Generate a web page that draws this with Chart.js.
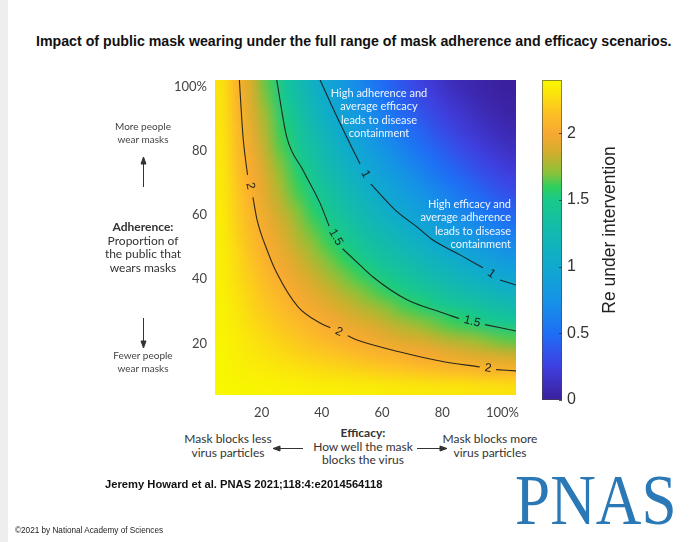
<!DOCTYPE html>
<html>
<head>
<meta charset="utf-8">
<script src="https://cdn.jsdelivr.net/npm/chart.js@4.4.0/dist/chart.umd.min.js"></script>
<style>
  html, body { margin: 0; padding: 0; background: #fff; }
  #page { position: relative; width: 689px; height: 542px; overflow: hidden; background: #fff; font-family: Lato, sans-serif; color: #333; }
  .abs { position: absolute; white-space: nowrap; }
  .strip { left: 0; top: 0; width: 8px; height: 542px; background: #eeeeee; }
  .title { left: 36px; top: 33px; font: bold 14.2px "Liberation Sans", Arial, sans-serif; color: #111; }
  .cite { left: 105px; top: 478px; font: bold 11.2px "Liberation Sans", Arial, sans-serif; color: #111; }
  .copy { left: 15px; top: 526px; font: 8.2px "Liberation Sans", Arial, sans-serif; color: #222; }
  .logo { left: 515px; top: 465px; font: 71px/71px "Liberation Serif", "Times New Roman", serif; color: #2a78b5; transform: scaleX(0.89); transform-origin: left top; }
  .small { font-size: 10px; line-height: 13px; text-align: center; color: #444; }
  .label { font-size: 12px; line-height: 13.5px; text-align: center; color: #333; }
  .note { font-size: 11px; line-height: 13.3px; color: #eef6ff; }
  .cbtitle { left: 609px; top: 230px; font: 17.5px "Liberation Sans", Arial, sans-serif; color: #222; transform: translate(-50%, -50%) rotate(-90deg); }
  #main { position: absolute; left: 150px; top: 70px; }
  #cbar { position: absolute; left: 532px; top: 70px; }
  svg { position: absolute; left: 0; top: 0; }
</style>
</head>
<body>
<div id="page">
  <div class="abs strip"></div>
  <div class="abs title">Impact of public mask wearing under the full range of mask adherence and efficacy scenarios.</div>

  <canvas id="main" width="376" height="355"></canvas>
  <canvas id="cbar" width="100" height="340"></canvas>

  <div class="abs note" style="left:309px; top:86px; width:140px; text-align:center;">High adherence and<br>average efficacy<br>leads to disease<br>containment</div>
  <div class="abs note" style="left:371px; top:197px; width:140px; text-align:right;">High efficacy and<br>average adherence<br>leads to disease<br>containment</div>

  <div class="abs small" style="left:93px; top:120px; width:100px;">More people<br>wear masks</div>
  <div class="abs label" style="left:83px; top:220px; width:120px;"><b>Adherence:</b><br>Proportion of<br>the public that<br>wears masks</div>
  <div class="abs small" style="left:93px; top:349px; width:100px;">Fewer people<br>wear masks</div>

  <div class="abs label" style="left:168px; top:432px; width:120px;">Mask blocks less<br>virus particles</div>
  <div class="abs label" style="left:293px; top:426px; width:140px;"><b>Efficacy:</b><br>How well the mask<br>blocks the virus</div>
  <div class="abs label" style="left:430px; top:432px; width:120px;">Mask blocks more<br>virus particles</div>

  <svg width="689" height="542">
    <g stroke="#333" stroke-width="1" fill="#333">
      <line x1="143.5" y1="187" x2="143.5" y2="162"/>
      <polygon points="143.5,157 141,164 146,164"/>
      <line x1="143.5" y1="318" x2="143.5" y2="343"/>
      <polygon points="143.5,348 141,341 146,341"/>
      <line x1="303" y1="448.5" x2="278" y2="448.5"/>
      <polygon points="273,448.5 280,446 280,451"/>
      <line x1="417" y1="448.5" x2="442" y2="448.5"/>
      <polygon points="447,448.5 440,446 440,451"/>
    </g>
  </svg>

  <div class="abs cbtitle">Re under intervention</div>
  <div class="abs cite">Jeremy Howard et al. PNAS 2021;118:4:e2014564118</div>
  <div class="abs logo">PNAS</div>
  <div class="abs copy">©2021 by National Academy of Sciences</div>
</div>

<script>
// mask efficacy (x) and adherence (y) cell centres, axis units as labelled in the figure
const efficacy = [7, 12, 17, 22, 27, 32, 37, 42, 47, 52, 57, 62, 67, 72, 77, 82, 87, 92, 97, 102];
const adherence = [6.5, 11.5, 16.5, 21.5, 26.5, 31.5, 36.5, 41.5, 46.5, 51.5, 56.5, 61.5, 66.5, 71.5, 76.5, 81.5, 86.5, 91.5, 96.5, 101.5];

// Re under intervention, one row per adherence value (bottom row first)
const reGrid = [
  [2.40, 2.39, 2.38, 2.38, 2.37, 2.37, 2.36, 2.35, 2.35, 2.34, 2.34, 2.33, 2.32, 2.32, 2.31, 2.31, 2.30, 2.29, 2.29, 2.28],
  [2.39, 2.37, 2.35, 2.34, 2.32, 2.30, 2.28, 2.26, 2.25, 2.23, 2.21, 2.19, 2.18, 2.16, 2.14, 2.12, 2.11, 2.09, 2.07, 2.06],
  [2.39, 2.35, 2.32, 2.29, 2.26, 2.23, 2.20, 2.18, 2.15, 2.12, 2.09, 2.06, 2.03, 2.00, 1.98, 1.95, 1.92, 1.89, 1.87, 1.84],
  [2.38, 2.34, 2.29, 2.25, 2.21, 2.17, 2.13, 2.09, 2.05, 2.01, 1.97, 1.93, 1.89, 1.86, 1.82, 1.78, 1.75, 1.71, 1.67, 1.64],
  [2.37, 2.32, 2.26, 2.21, 2.16, 2.11, 2.06, 2.00, 1.95, 1.91, 1.86, 1.81, 1.76, 1.71, 1.67, 1.62, 1.58, 1.53, 1.49, 1.45],
  [2.37, 2.30, 2.23, 2.17, 2.11, 2.04, 1.98, 1.92, 1.86, 1.80, 1.75, 1.69, 1.63, 1.58, 1.52, 1.47, 1.42, 1.37, 1.32, 1.27],
  [2.36, 2.28, 2.21, 2.13, 2.06, 1.98, 1.91, 1.84, 1.77, 1.70, 1.64, 1.57, 1.51, 1.45, 1.38, 1.32, 1.27, 1.21, 1.15, 1.10],
  [2.35, 2.26, 2.18, 2.09, 2.00, 1.92, 1.84, 1.76, 1.68, 1.61, 1.53, 1.46, 1.39, 1.32, 1.25, 1.19, 1.12, 1.06, 1.00, 0.94],
  [2.35, 2.25, 2.15, 2.05, 1.95, 1.86, 1.77, 1.68, 1.60, 1.51, 1.43, 1.35, 1.28, 1.20, 1.13, 1.06, 0.99, 0.92, 0.86, 0.80],
  [2.34, 2.23, 2.12, 2.01, 1.91, 1.80, 1.70, 1.61, 1.51, 1.42, 1.33, 1.25, 1.17, 1.09, 1.01, 0.94, 0.86, 0.80, 0.73, 0.67],
  [2.34, 2.21, 2.09, 1.97, 1.86, 1.75, 1.64, 1.53, 1.43, 1.33, 1.24, 1.15, 1.06, 0.98, 0.90, 0.82, 0.75, 0.68, 0.61, 0.55],
  [2.33, 2.19, 2.06, 1.93, 1.81, 1.69, 1.57, 1.46, 1.35, 1.25, 1.15, 1.05, 0.96, 0.88, 0.79, 0.71, 0.64, 0.57, 0.50, 0.44],
  [2.32, 2.18, 2.03, 1.89, 1.76, 1.63, 1.51, 1.39, 1.28, 1.17, 1.06, 0.96, 0.87, 0.78, 0.69, 0.61, 0.54, 0.47, 0.40, 0.34],
  [2.32, 2.16, 2.00, 1.86, 1.71, 1.58, 1.45, 1.32, 1.20, 1.09, 0.98, 0.88, 0.78, 0.69, 0.60, 0.52, 0.45, 0.38, 0.32, 0.26],
  [2.31, 2.14, 1.98, 1.82, 1.67, 1.52, 1.39, 1.25, 1.13, 1.01, 0.90, 0.79, 0.69, 0.60, 0.52, 0.44, 0.36, 0.30, 0.24, 0.19],
  [2.31, 2.12, 1.95, 1.78, 1.62, 1.47, 1.33, 1.19, 1.06, 0.94, 0.82, 0.71, 0.61, 0.52, 0.44, 0.36, 0.29, 0.23, 0.17, 0.13],
  [2.30, 2.11, 1.92, 1.75, 1.58, 1.42, 1.27, 1.12, 0.99, 0.86, 0.75, 0.64, 0.54, 0.45, 0.36, 0.29, 0.22, 0.17, 0.12, 0.08],
  [2.29, 2.09, 1.89, 1.71, 1.53, 1.37, 1.21, 1.06, 0.92, 0.80, 0.68, 0.57, 0.47, 0.38, 0.30, 0.23, 0.17, 0.12, 0.07, 0.04],
  [2.29, 2.07, 1.87, 1.67, 1.49, 1.32, 1.15, 1.00, 0.86, 0.73, 0.61, 0.50, 0.40, 0.32, 0.24, 0.17, 0.12, 0.07, 0.04, 0.02],
  [2.28, 2.06, 1.85, 1.64, 1.45, 1.28, 1.11, 0.95, 0.81, 0.68, 0.56, 0.45, 0.36, 0.27, 0.20, 0.13, 0.08, 0.05, 0.02, 0.00]
];

// contour lines; a null y marks where the inline label sits
const contour2 = [
  {x: 12.6, y: 102}, {x: 13.8, y: 84.4}, {x: 15.3, y: 72.5}, {x: 16.2, y: null}, {x: 17.1, y: 65.5},
  {x: 18.5, y: 58.4}, {x: 21.8, y: 49.1}, {x: 25.0, y: 42.0}, {x: 32.1, y: 31.4}, {x: 39.4, y: 26.4},
  {x: 42.8, y: 24.9}, {x: 45.7, y: null}, {x: 48.6, y: 22.4}, {x: 51.7, y: 21.1}, {x: 66.0, y: 17.4},
  {x: 79.3, y: 14.6}, {x: 92.5, y: 12.7}, {x: 95.2, y: null}, {x: 97.9, y: 11.9}, {x: 104.5, y: 11.5}
];
const contour15 = [
  {x: 25.0, y: 102}, {x: 28.3, y: 84.4}, {x: 33.7, y: 74.0}, {x: 39.4, y: 63.7}, {x: 42.4, y: 56.6},
  {x: 44.6, y: null}, {x: 46.9, y: 49.5}, {x: 52.7, y: 44.4}, {x: 57.0, y: 40.7}, {x: 68.3, y: 33.6},
  {x: 79.3, y: 29.8}, {x: 85.6, y: 27.8}, {x: 89.9, y: null}, {x: 94.2, y: 25.9}, {x: 104.5, y: 23.9}
];
const contour1 = [
  {x: 39.4, y: 102}, {x: 46.0, y: 88.6}, {x: 50.5, y: 80.0}, {x: 52.7, y: 75.9}, {x: 54.5, y: null},
  {x: 56.3, y: 69.6}, {x: 64.3, y: 61.6}, {x: 71.6, y: 56.3}, {x: 76.9, y: 52.2}, {x: 85.9, y: 47.6},
  {x: 93.5, y: 43.6}, {x: 96.3, y: null}, {x: 99.2, y: 39.8}, {x: 104.5, y: 38.2}
];

const xTicks = [20, 40, 60, 80, 100];
const yTicks = [20, 40, 60, 80, 100];
const colorbarTicks = [0, 0.5, 1, 1.5, 2];

// colour map
const cmapStops = [
  [0.00, '#3b1f9c'], [0.25, '#3f3fe0'], [0.50, '#1e6ef5'], [0.75, '#1594e6'],
  [1.00, '#10a9cf'], [1.25, '#12b9b0'], [1.50, '#19c98a'], [1.60, '#2fcf5c'],
  [1.70, '#88c23a'], [1.85, '#d0ae2c'], [2.00, '#f8a832'], [2.15, '#fcc024'],
  [2.30, '#fbe40c'], [2.40, '#f8f800']
];
const reMax = 2.4;

function hexToRgb(h) {
  return [parseInt(h.slice(1, 3), 16), parseInt(h.slice(3, 5), 16), parseInt(h.slice(5, 7), 16)];
}

function colorFor(v) {
  if (v <= cmapStops[0][0]) return hexToRgb(cmapStops[0][1]);
  for (let i = 1; i < cmapStops.length; i++) {
    if (v <= cmapStops[i][0]) {
      const a = cmapStops[i - 1], b = cmapStops[i];
      const t = (v - a[0]) / (b[0] - a[0]);
      const ca = hexToRgb(a[1]), cb = hexToRgb(b[1]);
      return ca.map((c, k) => Math.round(c + (cb[k] - c) * t));
    }
  }
  return hexToRgb(cmapStops[cmapStops.length - 1][1]);
}

const heatmapPlugin = {
  id: 'heatmap',
  beforeDatasetsDraw(chart) {
    const {ctx, chartArea, scales: {x, y}} = chart;
    const nx = efficacy.length, ny = adherence.length;
    const off = document.createElement('canvas');
    off.width = nx;
    off.height = ny;
    const octx = off.getContext('2d');
    const img = octx.createImageData(nx, ny);
    for (let r = 0; r < ny; r++) {
      for (let c = 0; c < nx; c++) {
        const rgb = colorFor(reGrid[r][c]);
        const i = ((ny - 1 - r) * nx + c) * 4;
        img.data[i] = rgb[0];
        img.data[i + 1] = rgb[1];
        img.data[i + 2] = rgb[2];
        img.data[i + 3] = 255;
      }
    }
    octx.putImageData(img, 0, 0);

    const dx = efficacy[1] - efficacy[0];
    const dy = adherence[1] - adherence[0];
    const left = x.getPixelForValue(efficacy[0] - dx / 2);
    const right = x.getPixelForValue(efficacy[nx - 1] + dx / 2);
    const top = y.getPixelForValue(adherence[ny - 1] + dy / 2);
    const bottom = y.getPixelForValue(adherence[0] - dy / 2);

    ctx.save();
    ctx.beginPath();
    ctx.rect(chartArea.left, chartArea.top, chartArea.right - chartArea.left, chartArea.bottom - chartArea.top);
    ctx.clip();
    ctx.imageSmoothingEnabled = true;
    ctx.imageSmoothingQuality = 'high';
    ctx.drawImage(off, left, top, right - left, bottom - top);
    ctx.restore();
  }
};

const contourLabelPlugin = {
  id: 'contourLabels',
  afterDatasetsDraw(chart) {
    const ctx = chart.ctx;
    chart.data.datasets.forEach((ds, i) => {
      const meta = chart.getDatasetMeta(i);
      ds.data.forEach((pt, k) => {
        if (pt.y !== null) return;
        const a = meta.data[k - 1], b = meta.data[k + 1];
        const ang = Math.atan2(b.y - a.y, b.x - a.x);
        ctx.save();
        ctx.translate((a.x + b.x) / 2, (a.y + b.y) / 2);
        ctx.rotate(ang);
        ctx.font = '12px "Liberation Sans", Arial, sans-serif';
        ctx.fillStyle = '#1e1e1e';
        ctx.textAlign = 'center';
        ctx.textBaseline = 'middle';
        ctx.fillText(ds.label, 0, 0);
        ctx.restore();
      });
    });
  }
};

const tickFont = {family: 'Lato', size: 13};
const lineStyle = {showLine: true, borderColor: 'rgba(25,25,25,0.9)', borderWidth: 1.1, pointRadius: 0, cubicInterpolationMode: 'monotone', spanGaps: false};

new Chart(document.getElementById('main'), {
  type: 'scatter',
  data: {
    datasets: [
      Object.assign({label: '2', data: contour2}, lineStyle),
      Object.assign({label: '1.5', data: contour15}, lineStyle),
      Object.assign({label: '1', data: contour1}, lineStyle)
    ]
  },
  options: {
    responsive: false,
    animation: false,
    layout: {padding: {top: 10, right: 10, left: 0, bottom: 0}},
    plugins: {legend: {display: false}, tooltip: {enabled: false}},
    scales: {
      x: {
        type: 'linear', min: 4.5, max: 104.5,
        grid: {display: false, drawTicks: false},
        border: {display: false},
        afterBuildTicks: s => { s.ticks = xTicks.map(v => ({value: v})); },
        afterFit: s => { s.height = 30; s.paddingLeft = 0; s.paddingRight = 0; },
        ticks: {padding: 10, font: tickFont, color: '#444', callback: v => v === 100 ? '100%' : String(v)}
      },
      y: {
        type: 'linear', min: 4, max: 102,
        grid: {display: false, drawTicks: false},
        border: {display: false},
        afterBuildTicks: s => { s.ticks = yTicks.map(v => ({value: v})); },
        afterFit: s => { s.width = 65; s.paddingTop = 0; s.paddingBottom = 0; },
        ticks: {padding: 8, font: tickFont, color: '#444', callback: v => v === 100 ? '100%' : String(v)}
      }
    }
  },
  plugins: [heatmapPlugin, contourLabelPlugin]
});

const colorbarPlugin = {
  id: 'colorbar',
  beforeDatasetsDraw(chart) {
    const {ctx, chartArea: ca, scales: {y}} = chart;
    const g = ctx.createLinearGradient(0, y.getPixelForValue(0), 0, y.getPixelForValue(reMax));
    cmapStops.forEach(s => g.addColorStop(s[0] / reMax, s[1]));
    ctx.save();
    ctx.fillStyle = g;
    ctx.fillRect(ca.left, ca.top, ca.right - ca.left, ca.bottom - ca.top);
    ctx.strokeStyle = 'rgba(70,70,70,0.6)';
    ctx.lineWidth = 1;
    ctx.strokeRect(ca.left + 0.5, ca.top + 0.5, ca.right - ca.left - 1, ca.bottom - ca.top - 1);
    ctx.strokeStyle = 'rgba(50,50,50,0.8)';
    y.ticks.forEach(t => {
      const py = Math.round(y.getPixelForValue(t.value)) + 0.5;
      ctx.beginPath();
      ctx.moveTo(ca.right - 3, py);
      ctx.lineTo(ca.right, py);
      ctx.stroke();
    });
    ctx.restore();
  }
};

new Chart(document.getElementById('cbar'), {
  type: 'scatter',
  data: {datasets: []},
  options: {
    responsive: false,
    animation: false,
    layout: {padding: {top: 10, right: 0, left: 10, bottom: 10}},
    plugins: {legend: {display: false}, tooltip: {enabled: false}},
    scales: {
      x: {display: false, min: 0, max: 1},
      y: {
        position: 'right', min: 0, max: reMax,
        grid: {display: false, drawTicks: false},
        border: {display: false},
        afterBuildTicks: s => { s.ticks = colorbarTicks.map(v => ({value: v})); },
        afterFit: s => { s.width = 70; s.paddingTop = 0; s.paddingBottom = 0; },
        ticks: {padding: 5, font: {family: 'Liberation Sans', size: 16}, color: '#333', callback: v => String(v)}
      }
    }
  },
  plugins: [colorbarPlugin]
});
</script>
</body>
</html>
